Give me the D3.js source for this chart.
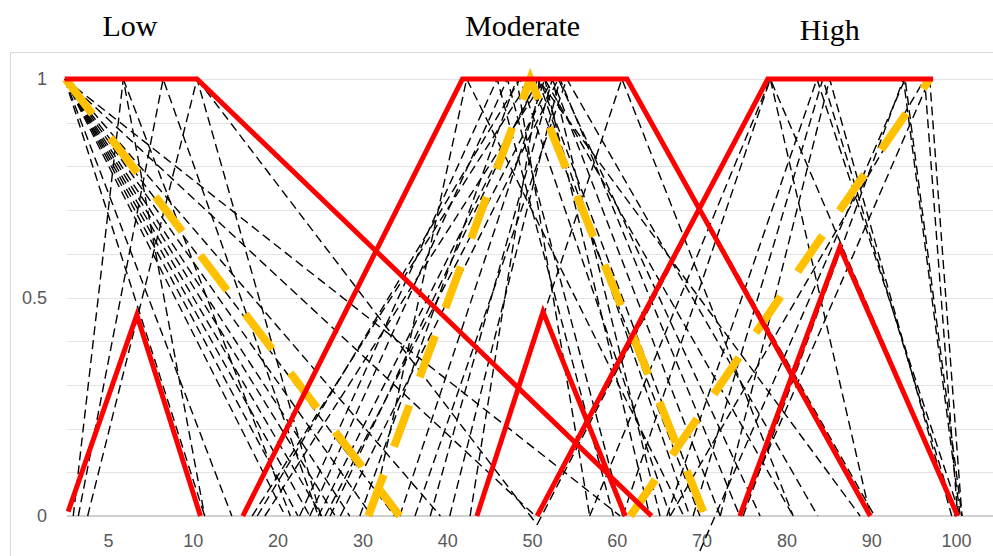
<!DOCTYPE html>
<html>
<head>
<meta charset="utf-8">
<script src="https://cdn.jsdelivr.net/npm/d3@7"></script>
<style>
  html, body { margin: 0; padding: 0; background: #fff; }
  svg { display: block; }
</style>
</head>
<body>
<svg id="chart" width="993" height="556"></svg>
<script>
// ---------------- DATA ----------------
const groupTitles = ["Low", "Moderate", "High"];
const groupTitleX = [2.6, 48.9, 85.1];          // axis units (centre of title)
const xTickPositions = [0, 10, 20, 30, 40, 50, 60, 70, 80, 90, 100];
const xTickLabels = ["5", "10", "20", "30", "40", "50", "60", "70", "80", "90", "100"];
const yTickValues = [0, 0.5, 1];
const yTickLabels = ["0", "0.5", "1"];
const yGridValues = [0.1, 0.2, 0.3, 0.4, 0.5, 0.6, 0.7, 0.8, 0.9, 1.0];

// aggregated fuzzy numbers (red, solid)
const redLowTri   = [[-4.7, 0.01], [3.4, 0.46], [10.9, 0]];
const redLowTrap  = [[-5.1, 1], [10.5, 1], [64.1, 0]];
const redModTrap  = [[15.9, 0], [41.8, 1], [61.2, 1], [89.9, 0]];
const redModTri   = [[43.5, 0], [51.3, 0.467], [61.0, 0]];
const redHighTrap = [[50.6, 0], [77.8, 1], [97.3, 1]];
const redHighTri  = [[74.5, 0], [86.3, 0.615], [100.2, 0]];

// averaged fuzzy numbers (orange, dashed)
const yellowLow  = [[-5.0, 1], [34.4, 0]];
const yellowMod  = [[30.7, 0], [49.8, 1], [70.4, 0]];
const yellowHigh = [[61.6, 0], [96.9, 1]];

// individual expert opinions (black, thin dashed)
const expertLow = [
  [[-5.1, 1], [11.4, 0]],
  [[-5.1, 1], [14.6, 0]],
  [[-5.1, 1], [20.9, 0]],
  [[-5.1, 1], [22.4, 0]],
  [[-5.1, 1], [23.8, 0]],
  [[-5.1, 1], [25.2, 0]],
  [[-5.1, 1], [26.8, 0]],
  [[-5.1, 1], [28.5, 0]],
  [[-5.1, 1], [31.1, 0]],
  [[-5.1, 1], [33.8, 0]],
  [[-5.1, 1], [39.2, 0]],
  [[-5.1, 1], [50.4, 0]],
  [[-5.1, 1], [60.4, 0]],
  [[-4.1, 0], [1.8, 1], [11.4, 0]],
  [[-3.5, 0], [6.5, 1], [24.8, 0]],
  [[-2.4, 0], [10.5, 1], [25.1, 0]],
  [[1.8, 1], [21.5, 0]],
  [[10.5, 1], [50.6, -0.02]]
];
const expertModerate = [
  [[17.0, 0], [49.8, 1], [69.8, 0]],
  [[17.6, 0], [48.6, 1], [66.3, 0]],
  [[18.5, 0], [51.5, 1], [63.9, 0]],
  [[22.6, 0], [45.9, 1], [59.6, 0]],
  [[23.8, 0], [47.1, 1], [60.7, 0]],
  [[24.8, 0], [50.7, 1], [68.6, 0]],
  [[25.6, 0], [52.4, 1], [72.2, 0]],
  [[27.4, 0], [53.1, 1], [76.9, 0]],
  [[29.7, 0], [48.2, 1], [56.8, 0]],
  [[31.1, 0], [42.3, 1], [67.9, 0]],
  [[34.4, 0], [51.5, 1], [80.8, 0]],
  [[36.2, 0], [54.1, 1], [83.7, 0]],
  [[43.5, 0], [60.6, 1], [80.8, 0]],
  [[38.0, 0], [52.4, 1], [65.1, 0]],
  [[40.3, 0], [53.3, 1], [74.5, 0]],
  [[42.7, 0], [50.9, 1], [70.4, 0]],
  [[26.2, 0], [50.7, 1], [88.7, 0]],
  [[61.2, 1], [90.4, 0]]
];
const expertHigh = [
  [[56.8, 0], [78.1, 1], [100.2, 0]],
  [[60.7, 0], [78.1, 1], [89.9, 0]],
  [[65.9, 0], [83.6, 1], [100.5, 0]],
  [[69.0, 0], [84.3, 1], [99.9, 0]],
  [[72.2, 0], [85.1, 1], [99.5, 0]],
  [[74.9, 0], [93.8, 1], [100.5, 0]],
  [[66.3, 0], [96.3, 1], [100.2, 0]],
  [[69.8, -0.08], [94.0, 1], [100.7, 0]],
  [[74.5, 0], [96.9, 1], [100.7, 0]],
  [[50.6, -0.02], [77.8, 1]]
];

// ---------------- LAYOUT ----------------
const svg = d3.select("#chart");
const W = 993, H = 556;
const plotLeft = 67, plotRight = 993;

const x = d3.scaleLinear().domain([0, 100]).range([108, 956]);
const y = d3.scaleLinear().domain([0, 1]).range([516, 79]);

// chart border
svg.append("rect")
  .attr("x", 10.5).attr("y", 52.5)
  .attr("width", W + 10).attr("height", H)
  .attr("fill", "#fff").attr("stroke", "#d9d9d9").attr("stroke-width", 1);

// horizontal gridlines
svg.append("g").selectAll("line").data(yGridValues).join("line")
  .attr("x1", plotLeft).attr("x2", plotRight)
  .attr("y1", d => Math.round(y(d)) + 0.5).attr("y2", d => Math.round(y(d)) + 0.5)
  .attr("stroke", "#e3e3e3").attr("stroke-width", 1);

// baseline (y = 0)
svg.append("line")
  .attr("x1", plotLeft).attr("x2", plotRight)
  .attr("y1", y(0)).attr("y2", y(0))
  .attr("stroke", "#d0d0d0").attr("stroke-width", 2);

// axes
const xAxis = d3.axisBottom(x)
  .tickValues(xTickPositions)
  .tickFormat((d, i) => xTickLabels[i])
  .tickSize(0).tickPadding(0);
const gx = svg.append("g").attr("transform", "translate(0,534)").call(xAxis);
gx.select(".domain").remove();
gx.selectAll("text")
  .attr("dy", "0.71em")
  .attr("fill", "#595959")
  .style("font-family", "'Liberation Sans', Arial, sans-serif")
  .style("font-size", "18px");

const yAxis = d3.axisLeft(y)
  .tickValues(yTickValues)
  .tickFormat((d, i) => yTickLabels[i])
  .tickSize(0).tickPadding(0);
const gy = svg.append("g").attr("transform", "translate(47,0)").call(yAxis);
gy.select(".domain").remove();
gy.selectAll("text")
  .attr("fill", "#595959")
  .style("font-family", "'Liberation Sans', Arial, sans-serif")
  .style("font-size", "18px");

// lines
const line = d3.line().x(d => x(d[0])).y(d => y(d[1]));

const blackG = svg.append("g");
[expertLow, expertModerate, expertHigh].forEach(group => {
  blackG.selectAll(null).data(group).join("path")
    .attr("d", line)
    .attr("fill", "none")
    .attr("stroke", "#000")
    .attr("stroke-width", 1.4)
    .attr("stroke-dasharray", "9,5");
});

const yellowG = svg.append("g");
yellowG.selectAll("path").data([yellowLow, yellowMod, yellowHigh]).join("path")
  .attr("d", line)
  .attr("fill", "none")
  .attr("stroke", "#FFC000")
  .attr("stroke-width", 8)
  .attr("stroke-dasharray", "44,30");

const redG = svg.append("g");
redG.selectAll("path").data([redLowTri, redLowTrap, redModTrap, redModTri, redHighTrap, redHighTri]).join("path")
  .attr("d", line)
  .attr("fill", "none")
  .attr("stroke", "#FF0000")
  .attr("stroke-width", 5)
  .attr("stroke-linejoin", "miter");

// group titles
svg.append("g").selectAll("text").data(groupTitles).join("text")
  .attr("x", (d, i) => x(groupTitleX[i]))
  .attr("y", (d, i) => i === 2 ? 40 : 36)
  .attr("text-anchor", "middle")
  .attr("fill", "#000")
  .style("font-family", "'Liberation Serif', 'Times New Roman', serif")
  .style("font-size", "30px")
  .text(d => d);
</script>
</body>
</html>
